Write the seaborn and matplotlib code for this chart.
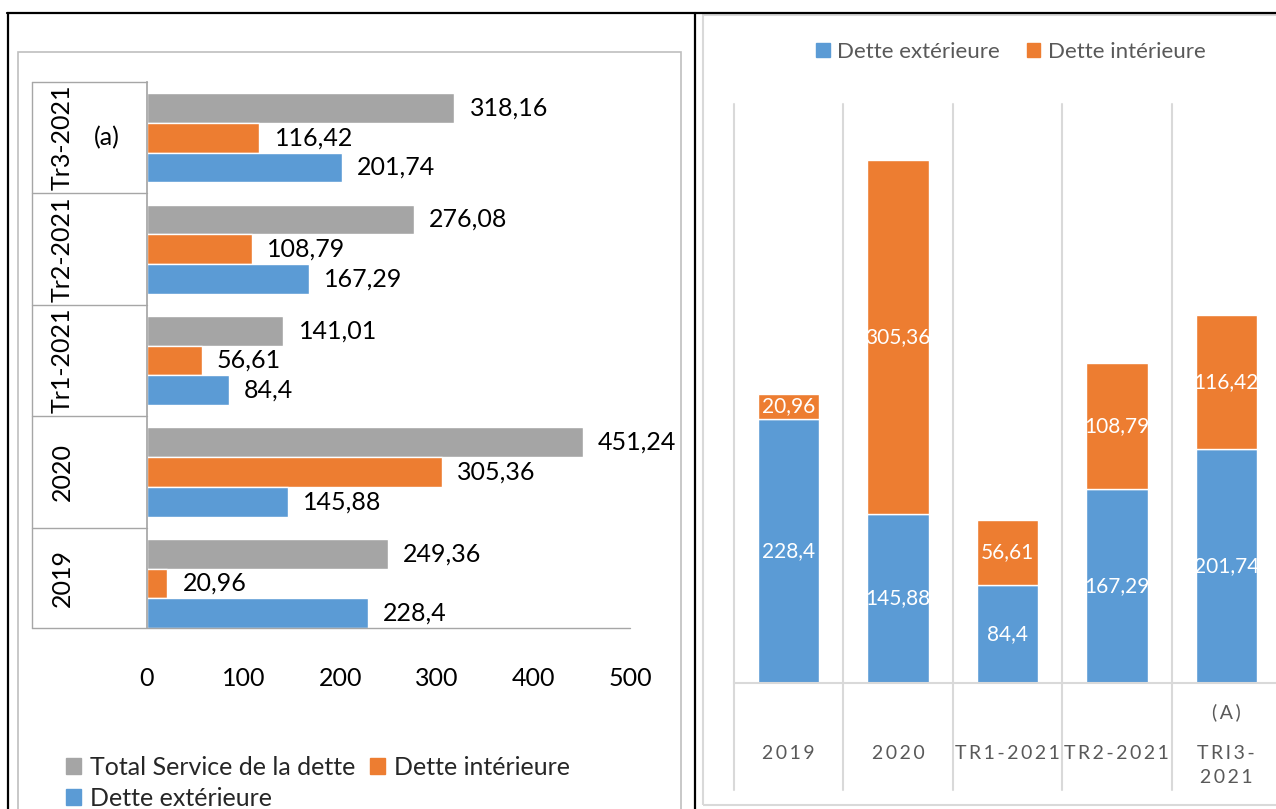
import matplotlib
matplotlib.use("Agg")
import matplotlib.pyplot as plt
import matplotlib.transforms as mtransforms
from matplotlib.lines import Line2D
from matplotlib.patches import Rectangle
import seaborn as sns
import pandas as pd
import numpy as np

# data
periods_left = ["Tr3-2021", "Tr2-2021", "Tr1-2021", "2020", "2019"]
total_service = [318.16, 276.08, 141.01, 451.24, 249.36]
dette_int_left = [116.42, 108.79, 56.61, 305.36, 20.96]
dette_ext_left = [201.74, 167.29, 84.4, 145.88, 228.4]
left_ticks = [0, 100, 200, 300, 400, 500]

periods_right = ["2019", "2020", "TR1-2021", "TR2-2021", "TRI3-\n2021"]
dette_ext = [228.4, 145.88, 84.4, 167.29, 201.74]
dette_int = [20.96, 305.36, 56.61, 108.79, 116.42]

GRAY = "#A5A5A5"
ORANGE = "#ED7D31"
BLUE = "#5B9BD5"
TXT = "#595959"

sns.set_theme(style="white")
plt.rcParams["font.family"] = ["Lato", "DejaVu Sans"]

W, H = 1276, 809
fig = plt.figure(figsize=(W / 100, H / 100), dpi=100)
fig.patch.set_facecolor("white")


def fx(x):
    return x / W


def fy(y):
    return 1 - y / H


def box(l, t, r, b):
    return [fx(l), fy(b), fx(r) - fx(l), fy(t) - fy(b)]


def fmt(v):
    return f"{v:g}".replace(".", ",")


# frames
fig.add_artist(Rectangle((fx(18), fy(830)), fx(681) - fx(18), fy(52) - fy(830),
                         transform=fig.transFigure, fill=False, ec="#bfbfbf", lw=1.2))
fig.add_artist(Rectangle((fx(703), fy(805)), fx(1300) - fx(703), fy(15) - fy(805),
                         transform=fig.transFigure, fill=False, ec="#d9d9d9", lw=1.5))
for xs, ys in [([7, 1276], [13, 13]), ([8, 8], [13, 809]), ([695, 695], [13, 809])]:
    fig.add_artist(Line2D([fx(x) for x in xs], [fy(y) for y in ys],
                          transform=fig.transFigure, color="black", lw=1.6))

# ---------- left chart ----------
left_df = pd.DataFrame({
    "periode": periods_left * 3,
    "valeur": total_service + dette_int_left + dette_ext_left,
    "serie": ["Total Service de la dette"] * 5 + ["Dette intérieure"] * 5 + ["Dette extérieure"] * 5,
})
ax = fig.add_axes(box(147, 82, 630, 628))
sns.barplot(data=left_df, y="periode", x="valeur", hue="serie", orient="h",
            order=periods_left,
            hue_order=["Total Service de la dette", "Dette intérieure", "Dette extérieure"],
            palette=[GRAY, ORANGE, BLUE], width=0.8, saturation=1, ax=ax, legend=False)
for c in ax.containers:
    ax.bar_label(c, fmt=fmt, padding=11, fontsize=18, color="black")
ax.set_xlim(0, 500)
ax.set_ylim(4.4, -0.5)
ax.set_xticks(left_ticks)
ax.set_xticklabels([str(t) for t in left_ticks], fontsize=18, color="black")
ax.tick_params(axis="x", length=0, pad=28)
ax.set_yticks([])
ax.set_xlabel("")
ax.set_ylabel("")
for s in ["top", "right", "bottom"]:
    ax.spines[s].set_visible(False)
ax.spines["left"].set_color("#a6a6a6")

# category boxes on the left
bl = mtransforms.blended_transform_factory(ax.transAxes, ax.transData)
x0 = (32 - 147) / 483
edges = [-0.5, 0.5, 1.5, 2.5, 3.5, 4.4]
ax.plot([x0, x0], [edges[0], edges[-1]], transform=bl, color="#a6a6a6", lw=1, clip_on=False)
for yb in edges[:-1]:
    ax.plot([x0, 0], [yb, yb], transform=bl, color="#a6a6a6", lw=1, clip_on=False)
ax.plot([x0, 1], [edges[-1], edges[-1]], transform=bl, color="#a6a6a6", lw=1, clip_on=False)
for i, p in enumerate(periods_left):
    ax.text((62 - 147) / 483, (edges[i] + edges[i + 1]) / 2, p, transform=bl,
            rotation=90, ha="center", va="center", fontsize=18, color="black")
ax.text((107 - 147) / 483, 0, "(a)", transform=bl, ha="center", va="center",
        fontsize=18, color="black")

handles = [Rectangle((0, 0), 1, 1, color=GRAY), Rectangle((0, 0), 1, 1, color=BLUE),
           Rectangle((0, 0), 1, 1, color=ORANGE)]
fig.legend(handles, ["Total Service de la dette", "Dette extérieure", "Dette intérieure"],
           ncol=2, loc="upper left", bbox_to_anchor=(fx(66), fy(756)), frameon=False,
           fontsize=18, handlelength=0.6, handleheight=0.6, handletextpad=0.35,
           columnspacing=0.6, labelspacing=0.3, borderaxespad=0, borderpad=0)

# ---------- right chart ----------
right_df = pd.DataFrame({"periode": periods_right, "ext": dette_ext, "int": dette_int})
ax2 = fig.add_axes(box(734, 104, 1281, 683))
sns.barplot(data=right_df, x="periode", y="ext", color=BLUE, saturation=1,
            width=0.56, ax=ax2)
sns.barplot(data=right_df, x="periode", y="int", color=ORANGE, saturation=1,
            width=0.56, ax=ax2, bottom=np.array(dette_ext))
for c in ax2.containers:
    ax2.bar_label(c, fmt=fmt, label_type="center", fontsize=15, color="white")
ax2.set_ylim(0, 500)
ax2.set_xlim(-0.5, 4.5)
ax2.set_xticks([])
ax2.set_yticks([])
ax2.set_xlabel("")
ax2.set_ylabel("")
for s in ["top", "right", "left"]:
    ax2.spines[s].set_visible(False)
ax2.spines["bottom"].set_color("#d9d9d9")
ax2.spines["bottom"].set_linewidth(1.5)

bl2 = mtransforms.blended_transform_factory(ax2.transData, ax2.transAxes)
low = (683 - 790) / 579
for xb in np.arange(-0.5, 5, 1):
    ax2.plot([xb, xb], [low, 1], transform=bl2, color="#d9d9d9", lw=1.5, clip_on=False)


def spaced(s):
    return "\n".join("\u2009".join(line) for line in s.split("\n"))


for i, p in enumerate(periods_right):
    ax2.text(i, (683 - 745) / 579, spaced(p), transform=bl2, ha="center", va="top",
             fontsize=14, color=TXT, linespacing=1.5)
ax2.text(4, (683 - 712) / 579, spaced("(A)"), transform=bl2, ha="center", va="center",
         fontsize=14, color=TXT)

fig.legend([Rectangle((0, 0), 1, 1, color=BLUE), Rectangle((0, 0), 1, 1, color=ORANGE)],
           ["Dette extérieure", "Dette intérieure"], ncol=2, loc="center",
           bbox_to_anchor=(fx(1011), fy(52)), frameon=False, fontsize=16,
           labelcolor=TXT, handlelength=0.6, handleheight=0.6, handletextpad=0.35,
           columnspacing=1.2, borderpad=0)

fig.savefig("out.png", dpi=100)
